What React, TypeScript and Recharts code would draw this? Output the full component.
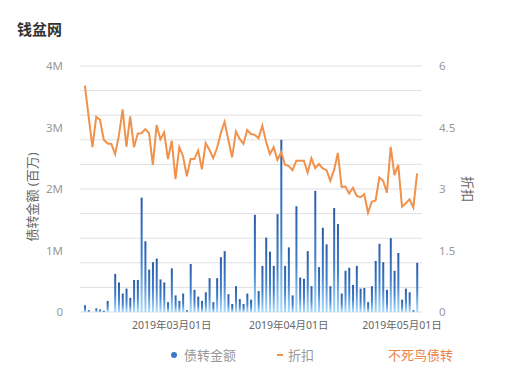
import { ComposedChart, Bar, Line, XAxis, YAxis, CartesianGrid } from "recharts";

// daily debt-transfer amount, in millions
const amounts = [
  0.11, 0.03, 0, 0.06, 0.04, 0.02, 0.18, 0, 0.62, 0.48, 0.3, 0.38, 0.23, 0.52, 0.52, 1.86, 1.15, 0.69, 0.81, 0.87, 0.53, 0.48,
  0.16, 0.71, 0.27, 0.18, 0.3, 0.03, 0.78, 0.36, 0.25, 0.18, 0.32, 0.55, 0.16, 0.55, 0.89, 0.99, 0.29, 0.13, 0.42, 0.21, 0.13, 0.3,
  0.2, 1.58, 0.34, 0.75, 1.21, 0.98, 0.75, 1.59, 2.8, 0.75, 1.05, 0.27, 1.72, 0.56, 0.54, 0.99, 0.42, 1.97, 0.73, 1.37, 1.1, 0.42, 1.69,
  1.43, 0.3, 0.67, 0.72, 0.44, 0.75, 0.38, 0.39, 0.16, 0.42, 0.83, 1.11, 0.81, 0.36, 1.2, 0.67, 0.96, 0.2, 0.38, 0.32, 0.03, 0.8,
];

// daily discount
const discounts = [
  5.52, 4.76, 4.02, 4.76, 4.69, 4.2, 4.11, 4.1, 3.85, 4.3, 4.94, 4.03, 4.77, 4.02, 4.35, 4.36, 4.46, 4.36, 3.59, 4.56, 4.21, 4.38,
  3.73, 4.18, 3.24, 4.02, 3.8, 3.31, 3.73, 3.73, 3.94, 3.48, 4.12, 3.95, 3.75, 4.0, 4.36, 4.64, 4.2, 3.77, 4.4, 4.22, 4.1, 4.44,
  4.34, 4.32, 4.24, 4.54, 4.15, 3.85, 4.02, 3.71, 3.9, 3.59, 3.56, 3.46, 3.69, 3.69, 3.69, 3.4, 3.75, 3.51, 3.61, 3.5, 3.46, 3.2, 3.46,
  3.88, 3.05, 3.06, 2.89, 3.03, 2.83, 2.8, 2.87, 2.42, 2.69, 2.72, 3.28, 3.2, 2.91, 4.03, 3.34, 3.59, 2.57, 2.65, 2.75, 2.55, 3.38,
];

const startDate = "2019-02-06";
const dateTicks = ["2019-03-01", "2019-04-01", "2019-05-01"];
const amountTicks = [0, 1, 2, 3, 4];
const discountTicks = [0, 1.5, 3, 4.5, 6];
const gridSteps = 10;

const pad = (n: number) => (n < 10 ? "0" + n : "" + n);
const dates = amounts.map((_, i) => {
  const d = new Date(startDate + "T00:00:00Z");
  d.setUTCDate(d.getUTCDate() + i);
  return `${d.getUTCFullYear()}-${pad(d.getUTCMonth() + 1)}-${pad(d.getUTCDate())}`;
});

const data = dates.map((date, i) => ({ date, amount: amounts[i], discount: discounts[i] }));

const FONT = "'Noto Sans', 'Noto Sans CJK SC', sans-serif";
const ORANGE = "#f0914c";

const fmtDate = (s: string) => {
  const [y, m, d] = s.split("-");
  return `${y}年${m}月${d}日`;
};

// minor grid: ten even rows across the plot
const gridRows = ({ offset }: any) =>
  Array.from({ length: gridSteps + 1 }, (_, k) => offset.top + (offset.height * k) / gridSteps);

const AxisTitle = (props: any) => {
  const { viewBox, value, side } = props;
  const { x, y, width, height } = viewBox;
  const cx = side === "left" ? x + 12 : x + width - 14;
  const cy = y + height / 2 + (side === "left" ? 8 : 0);
  return (
    <text
      x={cx}
      y={cy}
      transform={`rotate(${side === "left" ? -90 : 90}, ${cx}, ${cy})`}
      textAnchor="middle"
      dominantBaseline="central"
      fill="#666"
      fontSize={13}
      fontFamily={FONT}
    >
      {value}
    </text>
  );
};

const LegendRow = () => (
  <div style={{ position: "absolute", left: 0, top: 345, width: 506, height: 20, fontFamily: FONT, fontSize: 13 }}>
    <span style={{ position: "absolute", left: 171, top: 7, width: 6, height: 6, borderRadius: 3, background: "#3a78c9" }} />
    <span style={{ position: "absolute", left: 184, top: 0, color: "#999" }}>债转金额</span>
    <span style={{ position: "absolute", left: 277, top: 9, width: 6, height: 2, background: ORANGE }} />
    <span style={{ position: "absolute", left: 288, top: 0, color: "#999" }}>折扣</span>
    <span style={{ position: "absolute", left: 388, top: 0, color: "#e8834a" }}>不死鸟债转</span>
  </div>
);

export default function App() {
  return (
    <div style={{ position: "absolute", left: 0, top: 0, width: 506, height: 387, background: "#fff" }}>
      <div style={{ position: "absolute", left: 17, top: 18, fontFamily: FONT, fontSize: 15, fontWeight: 700, color: "#333" }}>
        钱盆网
      </div>
      <ComposedChart width={506} height={387} data={data} margin={{ top: 66, right: 24, bottom: 45, left: 20 }}>
        <defs>
          <linearGradient id="barFill" x1="0" y1="0" x2="0" y2="1">
            <stop offset="0%" stopColor="#2b5ca6" />
            <stop offset="55%" stopColor="#3f80cf" />
            <stop offset="100%" stopColor="#a8dcff" />
          </linearGradient>
        </defs>
        <CartesianGrid horizontal vertical={false} stroke="#e0e0e0" horizontalCoordinatesGenerator={gridRows} />
        <XAxis
          dataKey="date"
          ticks={dateTicks}
          interval={0}
          tickFormatter={fmtDate}
          axisLine={false}
          tickLine={false}
          tickSize={0}
          tickMargin={10}
          height={30}
          padding={{ left: 3, right: 3 }}
          tick={{ fill: "#666", fontSize: 10.5, fontFamily: FONT }}
        />
        <YAxis
          yAxisId="amount"
          orientation="left"
          width={60}
          domain={[0, 4]}
          ticks={amountTicks}
          tickFormatter={(v: number) => (v === 0 ? "0" : `${v}M`)}
          axisLine={false}
          tickLine={false}
          tickSize={0}
          tickMargin={17}
          tick={{ fill: "#999", fontSize: 11.5, fontFamily: FONT }}
          label={{ value: "债转金额 (百万)", content: (p: any) => <AxisTitle {...p} value="债转金额 (百万)" side="left" /> }}
        />
        <YAxis
          yAxisId="discount"
          orientation="right"
          width={60}
          domain={[0, 6]}
          ticks={discountTicks}
          axisLine={false}
          tickLine={false}
          tickSize={0}
          tickMargin={17}
          tick={{ fill: "#999", fontSize: 11.5, fontFamily: FONT }}
          label={{ value: "折扣", content: (p: any) => <AxisTitle {...p} value="折扣" side="right" /> }}
        />
        <Bar yAxisId="amount" dataKey="amount" name="债转金额" fill="url(#barFill)" barSize={2} isAnimationActive={false} />
        <Line
          yAxisId="discount"
          type="linear"
          dataKey="discount"
          name="折扣"
          stroke={ORANGE}
          strokeWidth={2}
          dot={false}
          activeDot={false}
          isAnimationActive={false}
        />
      </ComposedChart>
      <LegendRow />
    </div>
  );
}
